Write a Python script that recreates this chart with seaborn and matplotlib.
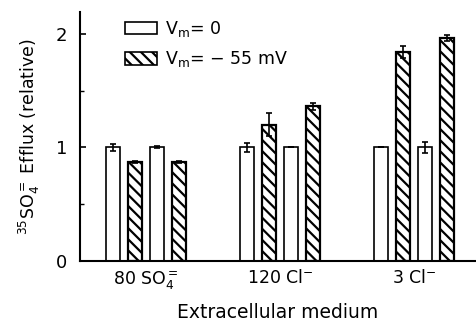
import numpy as np
import pandas as pd
import matplotlib
matplotlib.use("Agg")
import matplotlib.pyplot as plt
import matplotlib.patches as mpatches
import seaborn as sns

# ---- data ----
media = ["80 SO$_4^{=}$", "120 Cl$^{-}$", "3 Cl$^{-}$"]
bar_keys = ["Vm0_a", "Vm55_a", "Vm0_b", "Vm55_b"]
vm0_a = [1.00, 1.00, 1.00]
vm55_a = [0.87, 1.20, 1.84]
vm0_b = [1.00, 1.00, 1.00]
vm55_b = [0.87, 1.36, 1.96]
err_vm0_a = [0.03, 0.04, 0.00]
err_vm55_a = [0.01, 0.10, 0.05]
err_vm0_b = [0.01, 0.00, 0.05]
err_vm55_b = [0.01, 0.03, 0.025]
legend_labels = ["V$_\\mathrm{m}$= 0", "V$_\\mathrm{m}$= \u2212 55 mV"]

values = [vm0_a, vm55_a, vm0_b, vm55_b]
errors = [err_vm0_a, err_vm55_a, err_vm0_b, err_vm55_b]

rows = []
for k, vals, errs in zip(bar_keys, values, errors):
    for m, v, e in zip(media, vals, errs):
        rows.append({"medium": m, "bar": k, "value": v, "err": e})
df = pd.DataFrame(rows)

sns.set_theme(style="white")
plt.rcParams["font.family"] = ["DejaVu Sans"]
plt.rcParams["hatch.linewidth"] = 1.6
plt.rcParams["mathtext.fontset"] = "dejavusans"
plt.rcParams["text.color"] = "black"
plt.rcParams["axes.labelcolor"] = "black"
plt.rcParams["xtick.color"] = "black"
plt.rcParams["ytick.color"] = "black"

fig = plt.figure(figsize=(4.76, 3.27), dpi=100)
ax = fig.add_axes([0.168, 0.202, 0.832, 0.761])

sns.barplot(data=df, x="medium", y="value", hue="bar", order=media,
            hue_order=bar_keys, palette=["white"] * 4, edgecolor="black",
            linewidth=1.2, width=0.656, gap=0.37, errorbar=None,
            legend=False, ax=ax)

bar_containers = list(ax.containers)
for i, cont in enumerate(bar_containers):
    xs, ys = [], []
    for p in cont.patches:
        if i % 2 == 1:
            p.set_hatch("\\\\\\")
            p.set_linewidth(1.6)
        xs.append(p.get_x() + p.get_width() / 2)
        ys.append(p.get_height())
    ax.errorbar(xs, ys, yerr=errors[i], fmt="none", ecolor="black",
                elinewidth=1.2, capsize=2, capthick=1.2, zorder=5)

ax.set_xlim(-0.49, 2.46)
ax.set_ylim(0, 2.19)
ax.set_yticks([0, 1, 2])
ax.set_yticklabels(["0", "1", "2"])
ax.set_yticks([0.5, 1.5], minor=True)
ax.tick_params(axis="y", which="major", direction="in", length=4, width=1.2,
               labelsize=13, left=True, pad=9)
ax.tick_params(axis="y", which="minor", direction="in", length=3, width=1.0,
               left=True)
ax.tick_params(axis="x", length=0, labelsize=12.5, pad=6)

for s in ["top", "right"]:
    ax.spines[s].set_visible(False)
for s in ["left", "bottom"]:
    ax.spines[s].set_color("black")
    ax.spines[s].set_linewidth(1.5)

ax.set_xlabel("Extracellular medium", fontsize=13.5, labelpad=8)
ax.set_ylabel("$^{35}$SO$_4^{=}$ Efflux (relative)", fontsize=12.5, labelpad=10)

handles = [mpatches.Patch(facecolor="white", edgecolor="black", linewidth=1.2),
           mpatches.Patch(facecolor="white", edgecolor="black", linewidth=1.2,
                          hatch="\\\\\\")]
ax.legend(handles, legend_labels, loc="upper left", bbox_to_anchor=(0.075, 1.035),
          frameon=False, fontsize=12.5, handlelength=1.8, handleheight=0.75,
          handletextpad=0.5, labelspacing=0.6)

fig.savefig("out.png", dpi=100)
